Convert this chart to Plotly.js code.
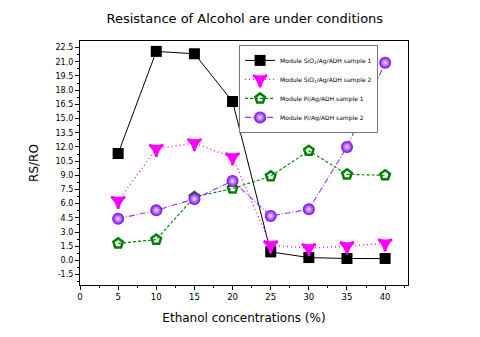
<!DOCTYPE html>
<html>
<head>
<meta charset="utf-8">
<script src="https://cdn.plot.ly/plotly-3.0.1.min.js"></script>
<style>
  body { margin: 0; background: #fff; }
  #graf { width: 480px; height: 337px; }
</style>
</head>
<body>
<div id="graf"></div>
<script>
let concentraciones = [5, 10, 15, 20, 25, 30, 35, 40];
let sio2Muestra1 = [11.3, 22.1, 21.85, 16.8, 0.9, 0.3, 0.2, 0.2];
let sio2Muestra2 = [6.3, 11.8, 12.4, 10.9, 1.6, 1.3, 1.5, 1.8];
let piMuestra1 = [1.8, 2.2, 6.7, 7.6, 8.9, 11.6, 9.1, 9.0];
let piMuestra2 = [4.4, 5.3, 6.5, 8.4, 4.7, 5.4, 12.0, 20.9];
let ticksY = [-1.5, 0, 1.5, 3, 4.5, 6, 7.5, 9, 10.5, 12, 13.5, 15, 16.5, 18, 19.5, 21, 22.5];

let graf1 = {
    x: concentraciones,
    y: sio2Muestra1,
    name: 'Module SiO<sub>2</sub>/Ag/ADH sample 1',
    mode: 'lines+markers',
    line: {color: '#000000', width: 1, dash: 'solid'},
    marker: {symbol: 'square', size: 11, color: '#000000'}
};
let graf2 = {
    x: concentraciones,
    y: sio2Muestra2,
    name: 'Module SiO<sub>2</sub>/Ag/ADH sample 2',
    mode: 'lines+markers',
    line: {color: '#ff00ff', width: 1.3, dash: '1px,3px'},
    marker: {symbol: 'star-triangle-down', size: 10, color: '#ff00ff', line: {color: '#ff00ff', width: 2.5}}
};
let graf3 = {
    x: concentraciones,
    y: piMuestra1,
    name: 'Module Pi/Ag/ADH sample 1',
    mode: 'lines+markers',
    line: {color: '#008000', width: 1.1, dash: '3px,2px'},
    marker: {symbol: 'pentagon-open', size: 10, color: '#008000', line: {color: '#008000', width: 2.5}}
};
let graf4 = {
    x: concentraciones,
    y: piMuestra2,
    name: 'Module Pi/Ag/ADH sample 2',
    mode: 'lines+markers',
    line: {color: '#9933ff', width: 1.1, dash: '6px,2px,1px,2px'},
    marker: {symbol: 'circle', size: 12, color: '#7a00e6',
             gradient: {type: 'radial', color: '#f0e0ff'}, line: {width: 0}}
};

let layout = {
    width: 480,
    height: 337,
    margin: {l: 80, r: 72, t: 41, b: 52},
    paper_bgcolor: '#ffffff',
    plot_bgcolor: '#ffffff',
    font: {family: 'DejaVu Sans', color: '#000000'},
    title: {
        text: 'Resistance of Alcohol are under conditions',
        font: {size: 13, family: 'DejaVu Sans'},
        x: 0.51, xanchor: 'center', y: 0.945, yanchor: 'middle'
    },
    xaxis: {
        title: {text: 'Ethanol concentrations (%)', font: {size: 12}, standoff: 12},
        range: [0, 43],
        tickmode: 'array',
        tickvals: [0, 5, 10, 15, 20, 25, 30, 35, 40],
        ticks: 'outside', ticklen: 4, tickwidth: 1, tickcolor: '#000',
        minor: {dtick: 2.5, tick0: 0, ticks: 'outside', ticklen: 2, tickcolor: '#000', showgrid: false},
        tickfont: {size: 8.5},
        showline: true, linecolor: '#000', linewidth: 1.2, mirror: true,
        showgrid: false, zeroline: false
    },
    yaxis: {
        title: {text: 'RS/RO', font: {size: 12}, standoff: 14},
        range: [-2.6, 23.2],
        tickmode: 'array',
        tickvals: ticksY,
        ticktext: ticksY.map(v => v.toFixed(1)),
        ticks: 'outside', ticklen: 4, tickwidth: 1, tickcolor: '#000',
        minor: {dtick: 0.75, tick0: 0, ticks: 'outside', ticklen: 2, tickcolor: '#000', showgrid: false},
        tickfont: {size: 8},
        showline: true, linecolor: '#000', linewidth: 1.2, mirror: true,
        showgrid: false, zeroline: false
    },
    legend: {
        x: 0.485, xanchor: 'left',
        y: 0.984, yanchor: 'top',
        bgcolor: '#ffffff',
        bordercolor: '#777',
        borderwidth: 1,
        font: {size: 6},
        tracegroupgap: 0,
        itemwidth: 30
    },
    showlegend: true
};

let contenedor = document.getElementById("graf");
Plotly.newPlot(contenedor, [graf1, graf2, graf3, graf4], layout, {displayModeBar: false});
</script>
</body>
</html>
